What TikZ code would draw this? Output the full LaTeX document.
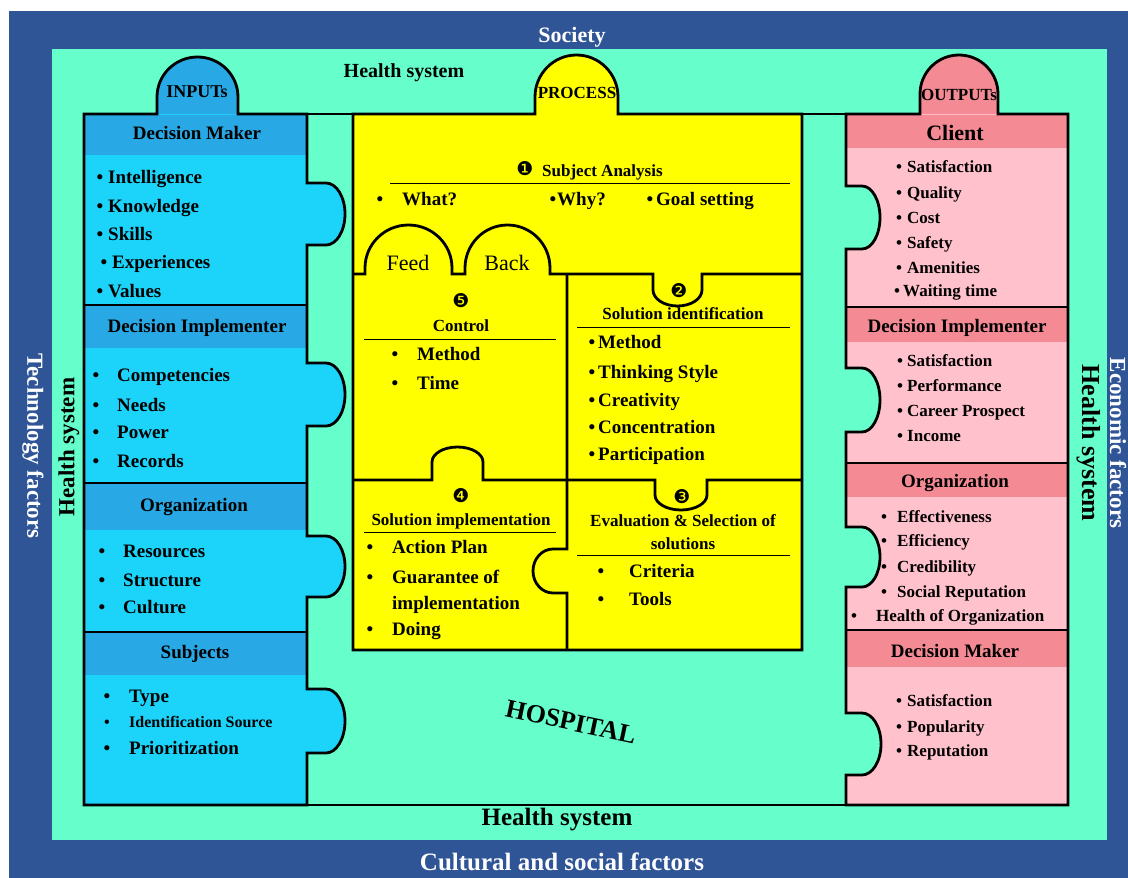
\documentclass[tikz,border=0pt]{standalone}
\usepackage{fontspec}
\setmainfont{Liberation Serif}
\newfontfamily\dingfont{DejaVu Sans}
\definecolor{navy}{HTML}{2F5597}
\definecolor{mint}{HTML}{66FFCC}
\definecolor{inbody}{HTML}{1CD3FA}
\definecolor{inhead}{HTML}{29A8E6}
\definecolor{outbody}{HTML}{FFC1CB}
\definecolor{outhead}{HTML}{F48A93}
\definecolor{procfill}{HTML}{FFFF00}
\newcommand\fsz[1]{\fontsize{#1}{#1}\selectfont}
\begin{document}
\begin{tikzpicture}[x=1pt,y=-1pt,
  lbl/.style={inner sep=0pt,anchor=base,font=\bfseries\fsz{#1}},
  lbl/.default=19,
  wlbl/.style={lbl=#1,text=white},
  num/.style={inner sep=0pt,font=\dingfont\fsz{19}},
  reg/.style={inner sep=0pt,anchor=base,font=\fsz{22}},
  bline/.style={line width=2.8pt},
  thinline/.style={line width=1pt},
  incol/.style={insert path={(84,114) -- (157,114) -- (157,97) arc[start angle=180,end angle=360,x radius=40.5,y radius=40] -- (238,114) -- (307,114) -- (307,183) -- (326,183) arc[start angle=-90,end angle=90,x radius=19,y radius=31] -- (307,245) -- (307,363) -- (326,363) arc[start angle=-90,end angle=90,x radius=19,y radius=31.5] -- (307,426) -- (307,536) -- (326,536) arc[start angle=-90,end angle=90,x radius=19,y radius=30.5] -- (307,597) -- (307,689) -- (326,689) arc[start angle=-90,end angle=90,x radius=19,y radius=32] -- (307,753) -- (307,805) -- (84,805) -- cycle}},
  outcol/.style={insert path={(846,114) -- (920,114) -- (920,94) arc[start angle=180,end angle=360,x radius=39,y radius=39] -- (998,114) -- (1068,114) -- (1068,805) -- (846,805) -- (846,775) -- (862,775) arc[start angle=90,end angle=-90,x radius=19,y radius=31] -- (846,713) -- (846,587) -- (862,587) arc[start angle=90,end angle=-90,x radius=18,y radius=30] -- (846,527) -- (846,432) -- (862,432) arc[start angle=90,end angle=-90,x radius=18,y radius=32] -- (846,368) -- (846,249) -- (862,249) arc[start angle=90,end angle=-90,x radius=18,y radius=31.5] -- (846,186) -- cycle}},
  proc/.style={insert path={(353,114) -- (535,114) -- (535,97) arc[start angle=180,end angle=360,x radius=41.5,y radius=42] -- (618,114) -- (802,114) -- (802,650) -- (353,650) -- cycle}}
]
\useasboundingbox (0,0) rectangle (1128,878);
% background
\fill[navy] (9,11) rectangle (1128,878);
\fill[mint] (52,49) rectangle (1107,840);
% input column
\fill[inbody,incol];
\fill[inhead] (157,114) -- (157,97) arc[start angle=180,end angle=360,x radius=40.5,y radius=40] -- (238,114) -- cycle;
\fill[inhead] (85.4,115.4) rectangle (305.6,155);
\fill[inhead] (85.4,305) rectangle (305.6,348);
\fill[inhead] (85.4,483) rectangle (305.6,530);
\fill[inhead] (85.4,632) rectangle (305.6,675);
\draw[bline,incol];
\draw[bline] (84,305) -- (307,305);
\draw[bline] (84,483) -- (307,483);
\draw[bline] (84,632) -- (307,632);
% output column
\fill[outbody,outcol];
\fill[outhead] (920,114) -- (920,94) arc[start angle=180,end angle=360,x radius=39,y radius=39] -- (998,114) -- cycle;
\fill[outhead] (847.4,115.4) rectangle (1066.6,148);
\fill[outhead] (847.4,307) rectangle (1066.6,342);
\fill[outhead] (847.4,463) rectangle (1066.6,497);
\fill[outhead] (847.4,630) rectangle (1066.6,667);
\draw[bline,outcol];
\draw[bline] (846,307) -- (1068,307);
\draw[bline] (846,463) -- (1068,463);
\draw[bline] (846,630) -- (1068,630);
% process
\fill[procfill,proc];
\draw[bline,proc];
\draw[bline] (353,274) -- (365,274) -- (365,268) arc[start angle=180,end angle=360,x radius=43.5,y radius=43] -- (452,274) -- (465,274) -- (465,268) arc[start angle=180,end angle=360,x radius=42.5,y radius=43] -- (550,274) -- (653,274) -- (653,290) arc[start angle=180,end angle=0,x radius=24.5,y radius=16] -- (702,274) -- (802,274);
\draw[bline] (567,274) -- (567,549) -- (553,549) arc[start angle=270,end angle=90,x radius=20,y radius=22] -- (567,593) -- (567,650);
\draw[bline] (353,480) -- (432,480) -- (432,462) arc[start angle=180,end angle=360,x radius=25.5,y radius=15] -- (483,480) -- (655,480) -- (655,495) arc[start angle=180,end angle=0,x radius=26,y radius=15] -- (707,480) -- (802,480);
% hospital outline gaps
\draw[bline] (307,114) -- (353,114);
\draw[bline] (802,114) -- (846,114);
\draw[bline] (307,805) -- (846,805);
% underlines
\draw[thinline] (390,183) -- (790,183);
\draw[thinline] (364,339) -- (556,339);
\draw[thinline] (577,327) -- (790,327);
\draw[thinline] (364,532) -- (556,532);
\draw[thinline] (577,555) -- (790,555);
% outer texts
\node[wlbl=22] (society) at (572,42) {Society};
\node[lbl=20] (hstop) at (404,77) {Health system};
\node[wlbl=25] (cultural) at (562,870) {Cultural and social factors};
\node[lbl=25] (hsbot) at (557,825) {Health system};
\node[wlbl=23,anchor=center,rotate=-90] (tech) at (33,446) {Technology factors};
\node[lbl=23,anchor=center,rotate=90] (hsleft) at (69,447) {Health system};
\node[lbl=26,anchor=center,rotate=-90] (hsright) at (1089,443) {Health system};
\node[wlbl=23,anchor=center,rotate=-90] (econ) at (1118,443) {Economic factors};
\node[lbl=26,anchor=center,rotate=-12] (hospital) at (571,722) {HOSPITAL};
% tabs
\node[lbl=18,anchor=center] (inputs) at (197,92) {INPUTs};
\node[lbl=17,anchor=center] (process) at (577,93) {PROCESS};
\node[lbl=17,anchor=center] (outputs) at (959,95) {OUTPUTs};
% headers
\node[lbl=19] (in-dm) at (197,139) {Decision Maker};
\node[lbl=19] (in-di) at (197,332) {Decision Implementer};
\node[lbl=19] (in-org) at (194,511) {Organization};
\node[lbl=19] (in-sub) at (195,658) {Subjects};
\node[lbl=22] (out-cl) at (955,140) {Client};
\node[lbl=19] (out-di) at (957,332) {Decision Implementer};
\node[lbl=19] (out-org) at (955,487) {Organization};
\node[lbl=19] (out-dm) at (955,657) {Decision Maker};
% process titles
\node[num] (n1) at (525,169) {❶};
\node[lbl=17,anchor=base west] (t1) at (542,176) {Subject Analysis};
\node[num] (n5) at (461,301) {❺};
\node[lbl=17] (t5) at (461,331) {Control};
\node[num] (n2) at (679,291) {❷};
\node[lbl=17] (t2) at (683,319) {Solution identification};
\node[num] (n4) at (461,496) {❹};
\node[lbl=17] (t4) at (461,525) {Solution implementation};
\node[num] (n3) at (682,497) {❸};
\node[lbl=17] (t3a) at (683,526) {Evaluation \& Selection of};
\node[lbl=17] (t3b) at (683,549) {solutions};
\node[reg] (feed) at (408,270) {Feed};
\node[reg] (back) at (507,270) {Back};
\node[lbl=19,anchor=base west] (s3) at (392,609) {implementation};
% bulleted items
\foreach \nm/\bx/\tx/\yy/\sz/\txt in {
 a1/100/108/177/19/Intelligence, a2/100/108/206/19/Knowledge, a3/100/108/234/19/Skills,
 a4/104/112/262/19/Experiences, a5/100/108/291/19/Values,
 b1/96/117/375/19/Competencies, b2/96/117/405/19/Needs, b3/96/117/432/19/Power, b4/96/117/461/19/Records,
 c1/102/123/551/19/Resources, c2/102/123/580/19/Structure, c3/102/123/607/19/Culture,
 d1/107/129/696/19/Type, d2/107/129/721/16/Identification Source, d3/107/129/748/19/Prioritization,
 p1/380/402/199/19/What?, p2/553/557/199/19/Why?, p3/650/656/199/19/Goal setting,
 q1/395/417/354/19/Method, q2/395/417/383/19/Time,
 r1/592/598/342/19/Method, r2/592/598/372/19/Thinking Style, r3/592/598/400/19/Creativity,
 r4/592/598/427/19/Concentration, r5/592/598/454/19/Participation,
 s1/370/392/547/19/Action Plan, s2/370/392/577/19/Guarantee of, s4/370/392/629/19/Doing,
 t1/601/629/571/19/Criteria, t2/601/629/599/19/Tools,
 u1/899/907/166/17/Satisfaction, u2/899/907/192/17/Quality, u3/899/907/217/17/Cost,
 u4/899/907/242/17/Safety, u5/899/907/267/17/Amenities, u6/897/903/290/17/Waiting time,
 v1/900/907/360/17/Satisfaction, v2/900/907/385/17/Performance, v3/900/907/410/17/Career Prospect, v4/900/907/435/17/Income,
 w1/884/897/516/17/Effectiveness, w2/884/897/540/17/Efficiency, w3/884/897/566/17/Credibility,
 w4/884/897/591/17/Social Reputation, w5/854/876/615/17/Health of Organization,
 x1/899/907/700/17/Satisfaction, x2/899/907/726/17/Popularity, x3/899/907/750/17/Reputation}{
  \node[lbl=\sz] (\nm-b) at (\bx,\yy+6) {•};
  \node[lbl=\sz,anchor=base west] (\nm) at (\tx,\yy+6) {\txt};
}
\end{tikzpicture}
\end{document}
